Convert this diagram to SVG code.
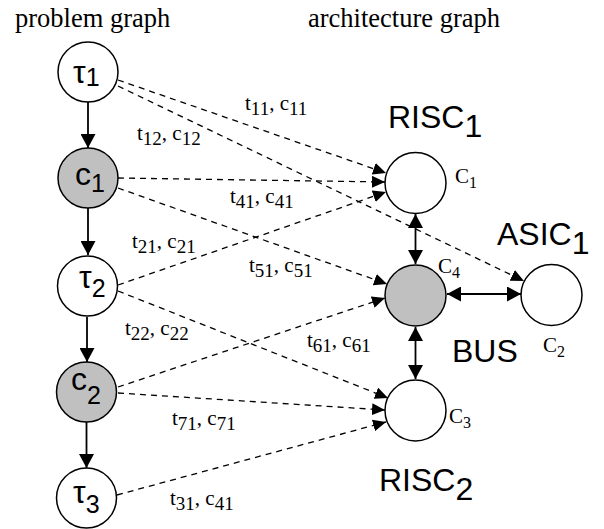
<svg xmlns="http://www.w3.org/2000/svg" width="604" height="529" viewBox="0 0 604 529">
<style>
.nd{stroke:#000;stroke-width:1.5}
.w{fill:#fff}
.g{fill:#c0c0c0}
.ser{font-family:"Liberation Serif","Times New Roman",serif;fill:#000}
.san{font-family:"Liberation Sans",Arial,sans-serif;fill:#000}
.dash{stroke:#000;stroke-width:1.3;stroke-dasharray:6,5;fill:none;marker-end:url(#ah)}
.sol{stroke:#000;stroke-width:1.8;fill:none;marker-end:url(#as)}
.dbl{stroke:#000;stroke-width:1.8;fill:none;marker-end:url(#as);marker-start:url(#as)}
.el{font-size:21px}
.el .s{font-size:19px}
.big{font-size:32px}
.nl{font-size:32px}
.nl .s{font-size:25px}
.cl{font-size:21px}
.cl .s{font-size:16px}
</style>
<defs>
<marker id="ah" markerUnits="userSpaceOnUse" markerWidth="13" markerHeight="12" refX="13" refY="6" orient="auto"><path d="M0,0 L13,6 L0,12 z" fill="#000"/></marker>
<marker id="as" markerUnits="userSpaceOnUse" markerWidth="14" markerHeight="15" refX="14" refY="7.5" orient="auto-start-reverse"><path d="M0,0 L14,7.5 L0,15 z" fill="#000"/></marker>
</defs>

<text class="ser" x="15" y="27" font-size="26.5">problem graph</text>
<text class="ser" x="308" y="27" font-size="26.5">architecture graph</text>

<g id="connectors">
<line class="sol" x1="88" y1="102" x2="88" y2="148"/>
<line class="sol" x1="88" y1="208" x2="88" y2="255"/>
<line class="sol" x1="87" y1="317" x2="87" y2="362"/>
<line class="sol" x1="86.5" y1="422" x2="86.5" y2="468"/>
<line class="dbl" x1="415.5" y1="214" x2="415.5" y2="264"/>
<line class="dbl" x1="415.5" y1="327" x2="415.5" y2="379"/>
<line class="dbl" x1="447" y1="294" x2="521" y2="294"/>
<line class="dash" x1="118" y1="80" x2="386" y2="173"/>
<line class="dash" x1="118" y1="86" x2="524" y2="281"/>
<line class="dash" x1="118" y1="178" x2="385" y2="182"/>
<line class="dash" x1="118" y1="188" x2="387" y2="284"/>
<line class="dash" x1="118" y1="285" x2="386" y2="192"/>
<line class="dash" x1="118" y1="291" x2="388" y2="398"/>
<line class="dash" x1="118" y1="387" x2="385" y2="298"/>
<line class="dash" x1="118" y1="393" x2="385" y2="410"/>
<line class="dash" x1="117" y1="495" x2="386" y2="422"/>
</g>

<g id="edge-labels">
<text class="ser el" x="245" y="110">t<tspan class="s" dy="5">11</tspan><tspan dy="-5">, c</tspan><tspan class="s" dy="5">11</tspan></text>
<text class="ser el" x="137" y="140">t<tspan class="s" dy="5">12</tspan><tspan dy="-5">, c</tspan><tspan class="s" dy="5">12</tspan></text>
<text class="ser el" x="230" y="203">t<tspan class="s" dy="5">41</tspan><tspan dy="-5">, c</tspan><tspan class="s" dy="5">41</tspan></text>
<text class="ser el" x="132" y="248">t<tspan class="s" dy="5">21</tspan><tspan dy="-5">, c</tspan><tspan class="s" dy="5">21</tspan></text>
<text class="ser el" x="249" y="272">t<tspan class="s" dy="5">51</tspan><tspan dy="-5">, c</tspan><tspan class="s" dy="5">51</tspan></text>
<text class="ser el" x="125" y="335">t<tspan class="s" dy="5">22</tspan><tspan dy="-5">, c</tspan><tspan class="s" dy="5">22</tspan></text>
<text class="ser el" x="307" y="347">t<tspan class="s" dy="5">61</tspan><tspan dy="-5">, c</tspan><tspan class="s" dy="5">61</tspan></text>
<text class="ser el" x="172" y="425">t<tspan class="s" dy="5">71</tspan><tspan dy="-5">, c</tspan><tspan class="s" dy="5">71</tspan></text>
<text class="ser el" x="170" y="505">t<tspan class="s" dy="5">31</tspan><tspan dy="-5">, c</tspan><tspan class="s" dy="5">41</tspan></text>
</g>

<g id="tau1"><circle class="nd w" cx="88" cy="72" r="30"/><text class="san nl" x="73" y="83">τ<tspan class="s" dy="3">1</tspan></text></g>
<g id="c1"><circle class="nd g" cx="88" cy="178" r="30"/><text class="san nl" x="75" y="185">c<tspan class="s" dy="7">1</tspan></text></g>
<g id="tau2"><circle class="nd w" cx="87.5" cy="286" r="30"/><text class="san nl" x="79" y="288">τ<tspan class="s" dy="9">2</tspan></text></g>
<g id="c2"><circle class="nd g" cx="86.5" cy="392" r="30"/><text class="san nl" x="71" y="390">c<tspan class="s" dy="14">2</tspan></text></g>
<g id="tau3"><circle class="nd w" cx="86.5" cy="498" r="30"/><text class="san nl" x="73" y="503">τ<tspan class="s" dy="10">3</tspan></text></g>

<g id="C1"><circle class="nd w" cx="415.5" cy="183" r="30.5"/><text class="ser cl" x="455" y="183">C<tspan class="s" dy="5">1</tspan></text><text class="san big" x="388" y="128">RISC<tspan dy="9">1</tspan></text></g>
<g id="C4"><circle class="nd g" cx="415.5" cy="295.5" r="30.5"/><text class="ser cl" x="438" y="273">C<tspan class="s" dy="5">4</tspan></text><text class="san big" x="452" y="362">BUS</text></g>
<g id="C2"><circle class="nd w" cx="551.5" cy="295" r="30.5"/><text class="ser cl" x="543" y="352">C<tspan class="s" dy="5">2</tspan></text><text class="san big" x="497" y="245">ASIC<tspan dy="9">1</tspan></text></g>
<g id="C3"><circle class="nd w" cx="415.5" cy="410.5" r="30.5"/><text class="ser cl" x="449" y="423">C<tspan class="s" dy="5">3</tspan></text><text class="san big" x="379" y="491">RISC<tspan dy="9">2</tspan></text></g>
</svg>
